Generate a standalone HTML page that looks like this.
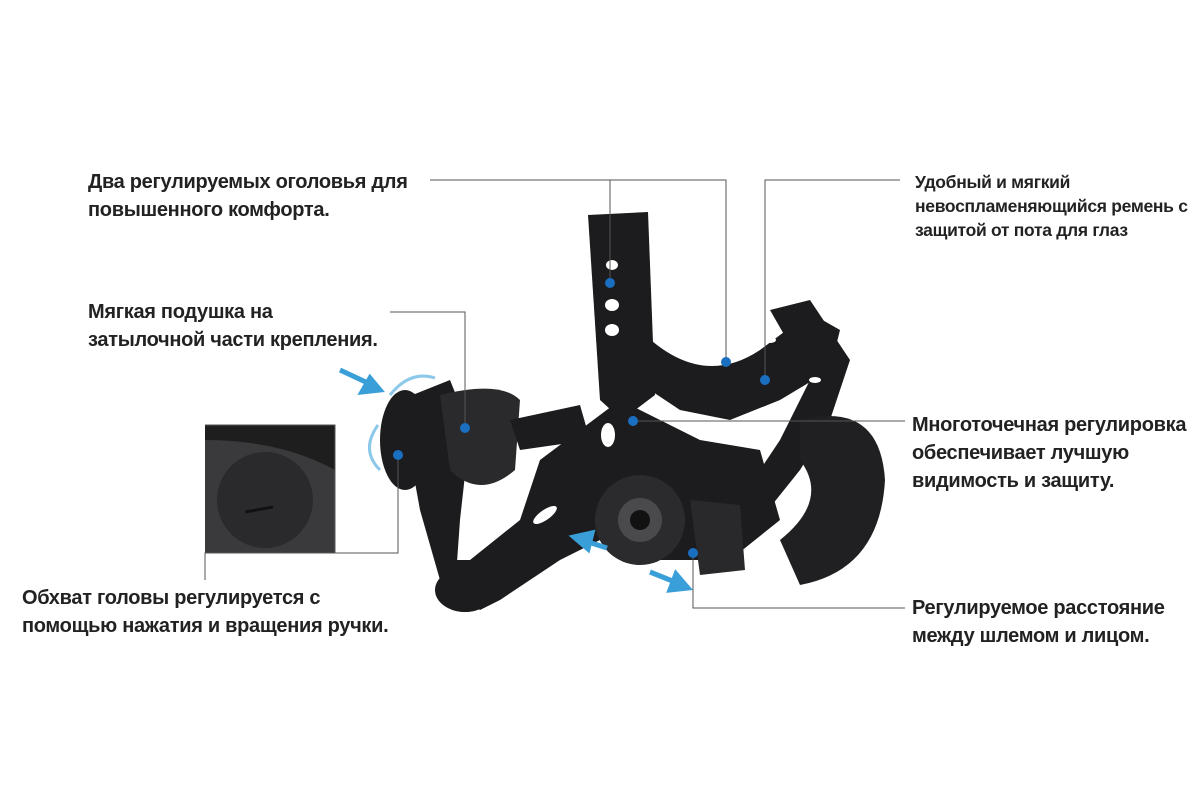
<!DOCTYPE html>
<html><head><meta charset="utf-8"><style>
body{margin:0;width:1200px;height:800px;background:#fff;position:relative;overflow:hidden;font-family:"Liberation Sans","DejaVu Sans",sans-serif;}
.t{position:absolute;font-weight:bold;color:#222;font-size:20px;line-height:28px;white-space:nowrap;letter-spacing:-0.3px}
.s{font-size:17.5px;line-height:24px}
svg{position:absolute;left:0;top:0}
</style></head><body>
<svg width="1200" height="800">
<g fill="#1c1c1e">
<path d="M588 215 L648 212 L655 395 L622 420 L600 400 Z"/>
<path d="M640 330 Q700 390 760 350 L800 320 L805 310 L840 330 L830 370 L780 400 L730 420 L680 410 L650 390 Z"/>
<path d="M770 310 L810 300 L850 360 L830 420 L800 470 L760 520 L740 500 L780 440 L810 380 Z"/>
<path d="M800 420 Q880 400 885 480 Q880 570 800 585 L780 540 Q830 500 800 460 Z" fill="#202022"/>
<path d="M540 460 L620 400 L700 440 L760 450 L780 520 L730 560 L640 560 L600 540 L560 560 L500 600 L455 600 L440 560 L470 560 L520 520 Z"/>
<path d="M400 400 L450 380 L470 430 L460 520 L455 590 L500 600 L480 610 L440 580 L420 510 Z"/>
<ellipse cx="405" cy="440" rx="25" ry="50"/>
<path d="M440 395 Q500 380 520 400 L515 470 Q480 500 450 470 Z" fill="#2a2a2c"/>
<path d="M510 420 L580 405 L590 440 L520 450 Z"/>
<ellipse cx="465" cy="590" rx="30" ry="22"/>
<circle cx="640" cy="520" r="45" fill="#2b2b2d"/>
<circle cx="640" cy="520" r="22" fill="#4a4a4c"/>
<circle cx="640" cy="520" r="10" fill="#111"/>
<path d="M690 500 L740 505 L745 570 L700 575 Z" fill="#29292b"/>
</g>
<g fill="#fff">
<ellipse cx="612" cy="265" rx="6" ry="5"/><ellipse cx="612" cy="305" rx="7" ry="6"/><ellipse cx="612" cy="330" rx="7" ry="6"/>
<ellipse cx="608" cy="435" rx="7" ry="12"/><ellipse cx="545" cy="515" rx="14" ry="5" transform="rotate(-35 545 515)"/>
<ellipse cx="770" cy="340" rx="6" ry="3"/><ellipse cx="815" cy="380" rx="6" ry="3"/>
</g>
<rect x="205" y="425" width="130" height="128" fill="#3a3a3c"/>
<path d="M205 425 L335 425 L335 470 Q280 440 205 440 Z" fill="#1e1e1e"/>
<circle cx="265" cy="500" r="48" fill="#2a2a2c"/>
<rect x="245" y="508" width="28" height="3" fill="#111" transform="rotate(-10 259 509)"/>
<g stroke="#3a9fd8" stroke-width="5" fill="#3a9fd8">
<line x1="340" y1="370" x2="370" y2="384"/><polygon points="380,390 362,392 370,378"/>
<line x1="607" y1="548" x2="585" y2="541"/><polygon points="574,537 592,533 588,549"/>
<line x1="650" y1="572" x2="675" y2="582"/><polygon points="688,588 670,590 676,574"/>
</g>
<g stroke="#8cc8ea" stroke-width="3" fill="none">
<path d="M390 395 Q410 370 435 378"/><path d="M380 470 Q360 450 378 425"/>
</g>
<g stroke="#555" stroke-width="1" fill="none">
<polyline points="430,180 726,180 726,362"/><line x1="610" y1="180" x2="610" y2="283"/>
<polyline points="900,180 765,180 765,380"/>
<polyline points="390,312 465,312 465,428"/>
<line x1="633" y1="421" x2="905" y2="421"/>
<polyline points="693,553 693,608 905,608"/>
<polyline points="205,425 335,425 335,553 205,553 205,580"/>
<polyline points="205,553 398,553 398,455"/>
</g>
<g fill="#1a6fc0">
<circle cx="610" cy="283" r="5"/><circle cx="726" cy="362" r="5"/><circle cx="765" cy="380" r="5"/>
<circle cx="465" cy="428" r="5"/><circle cx="633" cy="421" r="5"/><circle cx="693" cy="553" r="5"/><circle cx="398" cy="455" r="5"/>
</g>
</svg>
<div class="t" style="left:88px;top:168px">Два регулируемых оголовья для<br>повышенного комфорта.</div>
<div class="t s" style="left:915px;top:170px">Удобный и мягкий<br>невоспламеняющийся ремень с<br>защитой от пота для глаз</div>
<div class="t" style="left:88px;top:298px">Мягкая подушка на<br>затылочной части крепления.</div>
<div class="t" style="left:912px;top:411px">Многоточечная регулировка<br>обеспечивает лучшую<br>видимость и защиту.</div>
<div class="t" style="left:22px;top:584px">Обхват головы регулируется с<br>помощью нажатия и вращения ручки.</div>
<div class="t" style="left:912px;top:594px">Регулируемое расстояние<br>между шлемом и лицом.</div>
</body></html>
